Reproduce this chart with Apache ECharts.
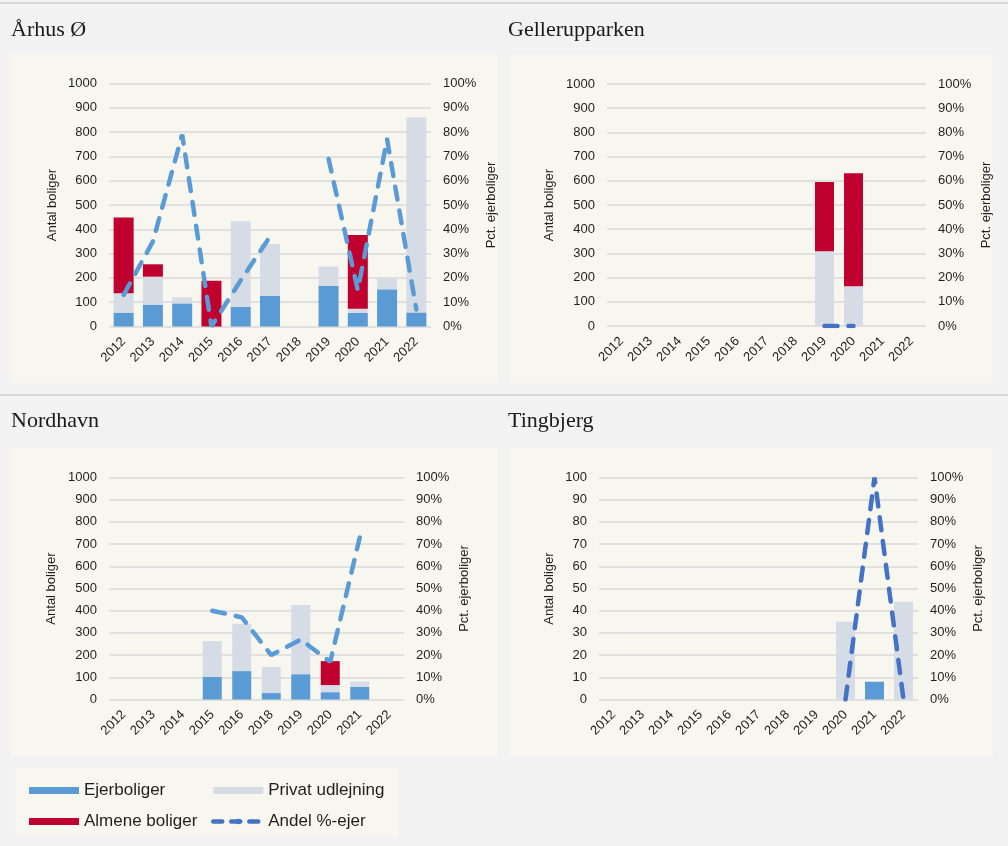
<!DOCTYPE html>
<html>
<head>
    <meta charset="utf-8">
    <script src="https://cdn.jsdelivr.net/npm/echarts@6/dist/echarts.min.js"></script>
</head>
<body style="margin: 0; background: #f2f2f2">
    <div id="container" style="width: 1008px; height: 846px"></div>

    <script type="text/javascript">
        // kategorier
        var years = ['2012', '2013', '2014', '2015', '2016', '2017', '2018', '2019', '2020', '2021', '2022'];
        var yearsNordhavn = ['2012', '2013', '2014', '2015', '2016', '2018', '2019', '2020', '2021', '2022'];

        // Århus Ø
        var aarhusEjer = [57, 90, 95, 0, 81, 126, null, 167, 56, 153, 58];
        var aarhusPrivat = [80, 115, 25, 0, 352, 214, null, 80, 17, 44, 802];
        var aarhusAlmene = [312, 51, 0, 188, 0, 0, null, 0, 304, 0, 0];
        var aarhusAndel = [13, 35, 79, 0, 19, 37, null, 69, 15, 77, 7];

        // Gellerupparken
        var gellerupEjer = [null, null, null, null, null, null, null, 0, 0, null, null];
        var gellerupPrivat = [null, null, null, null, null, null, null, 309, 164, null, null];
        var gellerupAlmene = [null, null, null, null, null, null, null, 286, 467, null, null];
        var gellerupAndel = [null, null, null, null, null, null, null, 0, 0, null, null];

        // Nordhavn
        var nordhavnEjer = [null, null, null, 102, 128, 29, 114, 33, 57, null];
        var nordhavnPrivat = [null, null, null, 161, 213, 118, 312, 32, 24, null];
        var nordhavnAlmene = [null, null, null, 0, 0, 0, 0, 108, 0, null];
        var nordhavnAndel = [null, null, null, 40, 37, 20, 27, 17, 73, null];

        // Tingbjerg
        var tingbjergEjer = [null, null, null, null, null, null, null, null, 0, 8, 0];
        var tingbjergPrivat = [null, null, null, null, null, null, null, null, 35, 0, 44];
        var tingbjergAlmene = [null, null, null, null, null, null, null, null, 0, 0, 0];
        var tingbjergAndel = [null, null, null, null, null, null, null, null, 0, 100, 0];

        var txt = '#1f1f1f';
        var font = 'Liberation Sans, Arial, sans-serif';
        var dash = [13, 11];

        var grids = [], xAxes = [], yAxes = [], series = [];

        function panel(i, g, cats, ejer, privat, almene, andel, leftMax, leftStep, lineColor, barW, gapL) {
            grids.push({ left: g[0], top: g[1], width: g[2], height: g[3], containLabel: false, outerBoundsMode: 'none' });
            xAxes.push({
                type: 'category', gridIndex: i, data: cats,
                axisLine: { show: false }, axisTick: { show: false },
                axisLabel: { interval: 0, rotate: 45, margin: 13, fontSize: 13, color: txt, fontFamily: font }
            });
            yAxes.push({
                type: 'value', gridIndex: i, min: 0, max: leftMax, interval: leftStep,
                name: 'Antal boliger', nameLocation: 'middle', nameGap: gapL, nameRotate: 90,
                nameTextStyle: { fontSize: 13, color: txt, fontFamily: font },
                axisLabel: { margin: 12, fontSize: 13, color: txt, fontFamily: font, formatter: function (v) { return String(v); } },
                splitLine: { lineStyle: { color: '#d9d9d9', width: 1.5 } }
            });
            yAxes.push({
                type: 'value', gridIndex: i, position: 'right', min: 0, max: 100, interval: 10,
                name: 'Pct. ejerboliger', nameLocation: 'middle', nameGap: 54, nameRotate: 90,
                nameTextStyle: { fontSize: 13, color: txt, fontFamily: font },
                axisLabel: { margin: 12, fontSize: 13, color: txt, fontFamily: font, formatter: '{value}%' },
                splitLine: { show: false }
            });
            var stack = 'st' + i;
            series.push({ name: 'Ejerboliger', type: 'bar', stack: stack, xAxisIndex: i, yAxisIndex: 2 * i, barWidth: barW, data: ejer, itemStyle: { color: '#5b9bd5' } });
            series.push({ name: 'Privat udlejning', type: 'bar', stack: stack, xAxisIndex: i, yAxisIndex: 2 * i, barWidth: barW, data: privat, itemStyle: { color: '#d6dce5' } });
            series.push({ name: 'Almene boliger', type: 'bar', stack: stack, xAxisIndex: i, yAxisIndex: 2 * i, barWidth: barW, data: almene, itemStyle: { color: '#c0002f' } });
            series.push({
                name: 'Andel %-ejer', type: 'line', xAxisIndex: i, yAxisIndex: 2 * i + 1, data: andel,
                symbol: 'none', itemStyle: { color: lineColor },
                lineStyle: { color: lineColor, width: 4.5, type: dash, cap: 'round' }
            });
        }

        panel(0, [109, 83.5, 322, 243], years, aarhusEjer, aarhusPrivat, aarhusAlmene, aarhusAndel, 1000, 100, '#5b9bd5', 20, 50);
        panel(1, [607, 84, 319, 242], years, gellerupEjer, gellerupPrivat, gellerupAlmene, gellerupAndel, 1000, 100, '#4472c4', 19, 51);
        panel(2, [109, 477.5, 295, 222], yearsNordhavn, nordhavnEjer, nordhavnPrivat, nordhavnAlmene, nordhavnAndel, 1000, 100, '#5b9bd5', 19, 51);
        panel(3, [599, 477.5, 319, 222], years, tingbjergEjer, tingbjergPrivat, tingbjergAlmene, tingbjergAndel, 100, 10, '#4472c4', 19, 43);

        var titleStyle = { fontFamily: 'Liberation Serif, serif', fontSize: 22, fontWeight: 'normal', color: '#1a1a1a' };
        var legendText = { fontSize: 17, color: txt, fontFamily: font };

        var option = {
            animation: false,
            title: [
                { text: 'Århus Ø', left: 11, top: 19, padding: 0, textStyle: titleStyle },
                { text: 'Gellerupparken', left: 508, top: 19, padding: 0, textStyle: titleStyle },
                { text: 'Nordhavn', left: 11, top: 410, padding: 0, textStyle: titleStyle },
                { text: 'Tingbjerg', left: 508, top: 410, padding: 0, textStyle: titleStyle }
            ],
            graphic: [
                { type: 'rect', z: -10, shape: { x: 0, y: 2, width: 1008, height: 2 }, style: { fill: '#d9d9d9' } },
                { type: 'rect', z: -10, shape: { x: 0, y: 394, width: 1008, height: 2 }, style: { fill: '#d9d9d9' } },
                { type: 'rect', z: -10, shape: { x: 11, y: 54, width: 487, height: 329 }, style: { fill: '#f7f7ef' } },
                { type: 'rect', z: -10, shape: { x: 509, y: 55, width: 484, height: 328 }, style: { fill: '#f7f7ef' } },
                { type: 'rect', z: -10, shape: { x: 11, y: 448, width: 487, height: 308 }, style: { fill: '#f7f7ef' } },
                { type: 'rect', z: -10, shape: { x: 509, y: 448, width: 484, height: 308 }, style: { fill: '#f7f7ef' } },
                { type: 'rect', z: -10, shape: { x: 15, y: 768, width: 383, height: 69 }, style: { fill: '#f7f7ef' } }
            ],
            legend: [
                {
                    left: 29, top: 782, orient: 'vertical', itemWidth: 50, itemHeight: 7, itemGap: 14, padding: 0,
                    textStyle: legendText, selectedMode: false,
                    data: [{ name: 'Ejerboliger', icon: 'rect' }, { name: 'Almene boliger', icon: 'rect' }]
                },
                {
                    left: 211, top: 782, orient: 'vertical', itemWidth: 50, itemHeight: 7, itemGap: 14, padding: 0,
                    textStyle: legendText, selectedMode: false,
                    data: [
                        { name: 'Privat udlejning', icon: 'rect' },
                        { name: 'Andel %-ejer', itemStyle: { color: '#4472c4' }, lineStyle: { color: '#4472c4', width: 4.5, type: [9, 9], cap: 'round' } }
                    ]
                }
            ],
            grid: grids,
            xAxis: xAxes,
            yAxis: yAxes,
            series: series
        };

        var myChart = echarts.init(document.getElementById('container'));
        myChart.setOption(option);
    </script>
</body>
</html>
